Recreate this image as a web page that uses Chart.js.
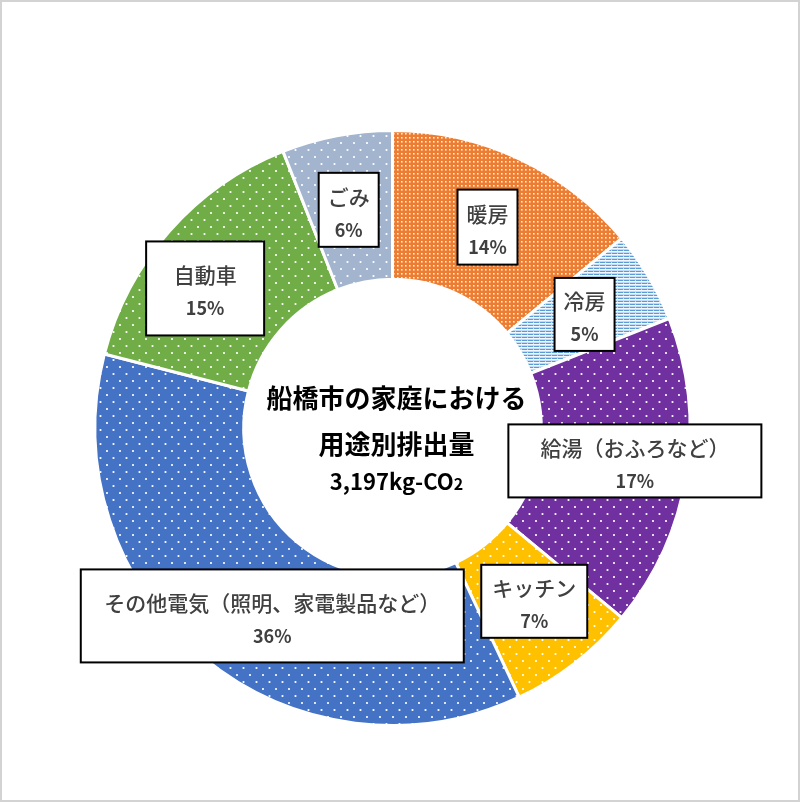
<!DOCTYPE html>
<html lang="ja">
  <head>
    <meta charset="UTF-8" />
    <title>船橋市の家庭における用途別排出量</title>
    <script src="https://cdn.jsdelivr.net/npm/chart.js"></script>
    <style>
      body {
        margin: 0;
        background: #ffffff;
      }
      .wrap {
        position: relative;
        width: 800px;
        height: 802px;
      }
      #co2Chart {
        position: absolute;
        left: 0;
        top: 0;
      }
      .frame {
        position: absolute;
        inset: 0;
        border: 2px solid #d3d3d3;
        pointer-events: none;
      }
    </style>
  </head>
  <body>
    <div class="wrap">
      <canvas id="co2Chart" width="800" height="802"></canvas>
      <div class="frame"></div>
    </div>

    <script>
      // data
      const categories = [
        "暖房",
        "冷房",
        "給湯（おふろなど）",
        "キッチン",
        "その他電気（照明、家電製品など）",
        "自動車",
        "ごみ",
      ];
      const shares = [14, 5, 17, 7, 36, 15, 6];
      const titleLines = ["船橋市の家庭における", "用途別排出量"];
      const totalText = "3,197kg-CO";
      const totalSub = "2";

      // styling
      const baseColors = ["#ED7D31", "#C4DBF1", "#7030A0", "#FFC000", "#4472C4", "#70AD47", "#A2B4CE"];
      const patternKind = ["dense", "lines", "sparse", "sparse", "sparse", "sparse", "sparse"];
      // label box size and shift from the slice centre
      const boxSize = [[60, 75], [60, 73], [253, 73], [106, 73], [383, 93], [118, 94], [60, 74]];
      const boxShift = [[0, 1], [0, 0], [22, -2], [5, -3], [22, 16], [-20, 8], [-2, 1]];

      function makePattern(base, kind) {
        const tile = document.createElement("canvas");
        const g = tile.getContext("2d");
        if (kind === "dense") {
          tile.width = 4;
          tile.height = 4;
          g.fillStyle = base;
          g.fillRect(0, 0, 4, 4);
          g.fillStyle = "rgba(255,255,255,0.85)";
          g.fillRect(1, 1, 1.6, 1.6);
        } else if (kind === "lines") {
          tile.width = 6;
          tile.height = 3;
          g.fillStyle = base;
          g.fillRect(0, 0, 6, 3);
          g.fillStyle = "#5B9BD5";
          g.fillRect(0, 1, 5, 1);
          g.fillStyle = "#F2F7FC";
          g.fillRect(0, 2, 6, 1);
        } else {
          tile.width = 13;
          tile.height = 14;
          g.fillStyle = base;
          g.fillRect(0, 0, 13, 14);
          g.fillStyle = "#ffffff";
          g.beginPath();
          g.arc(3, 3, 1.1, 0, Math.PI * 2);
          g.arc(9.5, 10, 1.1, 0, Math.PI * 2);
          g.fill();
        }
        return g.createPattern(tile, "repeat");
      }

      const ctx0 = document.getElementById("co2Chart").getContext("2d");
      const fills = baseColors.map((c, i) => makePattern(c, patternKind[i]));

      const labelPlugin = {
        id: "labelBoxes",
        afterDraw(chart) {
          const ctx = chart.ctx;
          const arcs = chart.getDatasetMeta(0).data;
          ctx.save();
          ctx.textAlign = "center";
          ctx.textBaseline = "middle";
          arcs.forEach((arc, i) => {
            const p = arc.tooltipPosition();
            const cx = p.x + boxShift[i][0];
            const cy = p.y + boxShift[i][1];
            const w = boxSize[i][0];
            const h = boxSize[i][1];
            ctx.fillStyle = "#ffffff";
            ctx.fillRect(cx - w / 2, cy - h / 2, w, h);
            ctx.lineWidth = 2;
            ctx.strokeStyle = "#000000";
            ctx.strokeRect(cx - w / 2, cy - h / 2, w, h);
            ctx.fillStyle = "#404040";
            ctx.font = '500 21px "Noto Sans CJK JP"';
            ctx.fillText(categories[i], cx, cy - 13);
            ctx.font = 'bold 18px "Noto Sans CJK JP"';
            ctx.fillText(shares[i] + "%", cx, cy + 20);
          });

          // centre title
          const ox = arcs[0].x + 4;
          const oy = arcs[0].y;
          ctx.fillStyle = "#000000";
          ctx.font = 'bold 26px "Noto Sans CJK JP"';
          ctx.fillText(titleLines[0], ox, oy - 30);
          ctx.fillText(titleLines[1], ox, oy + 16);
          ctx.font = 'bold 22px "Noto Sans CJK JP"';
          const mainW = ctx.measureText(totalText).width;
          ctx.font = 'bold 16px "Noto Sans CJK JP"';
          const subW = ctx.measureText(totalSub).width;
          const startX = ox - (mainW + subW) / 2;
          ctx.textAlign = "left";
          ctx.textBaseline = "alphabetic";
          ctx.font = 'bold 22px "Noto Sans CJK JP"';
          ctx.fillText(totalText, startX, oy + 62);
          ctx.font = 'bold 16px "Noto Sans CJK JP"';
          ctx.fillText(totalSub, startX + mainW, oy + 62);
          ctx.restore();
        },
      };

      new Chart(ctx0, {
        type: "doughnut",
        data: {
          labels: categories,
          datasets: [
            {
              data: shares,
              backgroundColor: fills,
              borderColor: "#ffffff",
              borderWidth: 3,
            },
          ],
        },
        options: {
          responsive: false,
          animation: false,
          cutout: "50%",
          layout: {
            padding: { left: 93, right: 108, top: 129, bottom: 75 },
          },
          plugins: {
            legend: { display: false },
            tooltip: { enabled: false },
          },
        },
        plugins: [labelPlugin],
      });
    </script>
  </body>
</html>
